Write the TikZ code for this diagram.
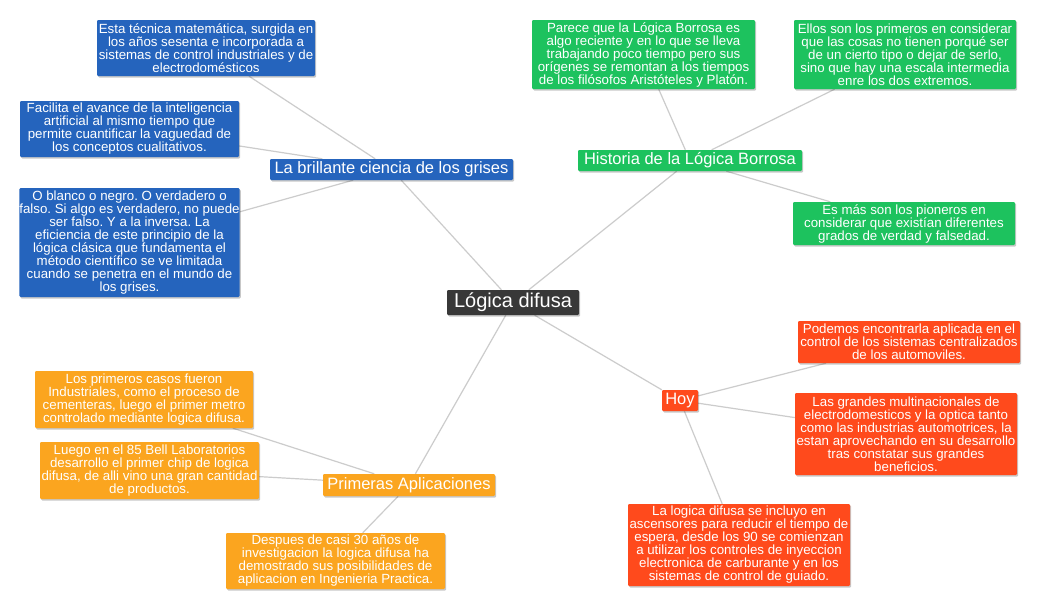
\documentclass[tikz,border=0pt]{standalone}
\usepackage{fontspec}
\setmainfont{Liberation Sans}
\usetikzlibrary{shadows,backgrounds}
\frenchspacing
\definecolor{cblue}{HTML}{2564BD}
\definecolor{cgreen}{HTML}{1DC25E}
\definecolor{corange}{HTML}{FBA51F}
\definecolor{cred}{HTML}{FF4A1C}
\definecolor{cdark}{HTML}{383838}
\definecolor{cline}{HTML}{CCCCCC}
\tikzset{
  box/.style={inner sep=0pt, align=center, text=white, rounded corners=1.2pt,
    drop shadow={shadow xshift=1.2pt, shadow yshift=-1.5pt, opacity=0.22, fill=black},
    font=\fontsize{13.3}{13}\selectfont},
  topic/.style={box, font=\fontsize{16.5}{17}\selectfont},
  central/.style={box, fill=cdark, font=\fontsize{20}{20}\selectfont},
  conn/.style={draw=cline, line width=1.2pt},
}
\begin{document}
\begin{tikzpicture}[x=1pt,y=-1pt]
\useasboundingbox (0,0) rectangle (1039,608);
% central
\node[central, minimum width=132pt, minimum height=25pt] (C) at (513,302.5) {Lógica difusa};
% blue
\node[topic, fill=cblue, minimum width=243pt, minimum height=21pt] (BM) at (391.5,169.5) {La brillante ciencia de los grises};
\node[box, fill=cblue, minimum width=218pt, minimum height=56pt] (B1) at (206,48) {Esta técnica matemática, surgida en\\los años sesenta e incorporada a\\sistemas de control industriales y de\\electrodomésticos};
\node[box, fill=cblue, minimum width=219pt, minimum height=56pt] (B2) at (129.5,129) {Facilita el avance de la inteligencia\\artificial al mismo tiempo que\\permite cuantificar la vaguedad de\\los conceptos cualitativos.};
\node[box, fill=cblue, minimum width=219pt, minimum height=109pt] (B3) at (129.5,242.5) {O blanco o negro. O verdadero o\\falso. Si algo es verdadero, no puede\\ser falso. Y a la inversa. La\\eficiencia de este principio de la\\lógica clásica que fundamenta el\\método científico se ve limitada\\cuando se penetra en el mundo de\\los grises.};
% green
\node[topic, fill=cgreen, minimum width=224pt, minimum height=21pt] (GM) at (690,160.5) {Historia de la Lógica Borrosa};
\node[box, fill=cgreen, minimum width=223pt, minimum height=69pt] (G1) at (643.5,54.5) {Parece que la Lógica Borrosa es\\algo reciente y en lo que se lleva\\trabajando poco tiempo pero sus\\orígenes se remontan a los tiempos\\de los filósofos Aristóteles y Platón.};
\node[box, fill=cgreen, minimum width=222pt, minimum height=69pt] (G2) at (905,54.5) {Ellos son los primeros en considerar\\que las cosas no tienen porqué ser\\de un cierto tipo o dejar de serlo,\\sino que hay una escala intermedia\\enre los dos extremos.};
\node[box, fill=cgreen, minimum width=222pt, minimum height=43pt] (G3) at (904,223.5) {Es más son los pioneros en\\considerar que existían diferentes\\grados de verdad y falsedad.};
% orange
\node[topic, fill=corange, minimum width=172pt, minimum height=22pt] (OM) at (409,485) {Primeras Aplicaciones};
\node[box, fill=corange, minimum width=218pt, minimum height=57pt] (O1) at (144,399.5) {Los primeros casos fueron\\Industriales, como el proceso de\\cementeras, luego el primer metro\\controlado mediante logica difusa.};
\node[box, fill=corange, minimum width=219pt, minimum height=57pt] (O2) at (149.5,470.5) {Luego en el 85 Bell Laboratorios\\desarrollo el primer chip de logica\\difusa, de alli vino una gran cantidad\\de productos.};
\node[box, fill=corange, minimum width=219pt, minimum height=56pt] (O3) at (335.5,561) {Despues de casi 30 años de\\investigacion la logica difusa ha\\demostrado sus posibilidades de\\aplicacion en Ingenieria Practica.};
% red
\node[topic, fill=cred, minimum width=36pt, minimum height=21pt] (RM) at (680,400.5) {Hoy};
\node[box, fill=cred, minimum width=222pt, minimum height=42pt] (R1) at (909,342) {Podemos encontrarla aplicada en el\\control de los sistemas centralizados\\de los automoviles.};
\node[box, fill=cred, minimum width=222pt, minimum height=82pt] (R2) at (906,434) {Las grandes multinacionales de\\electrodomesticos y la optica tanto\\como las industrias automotrices, la\\estan aprovechando en su desarrollo\\tras constatar sus grandes\\beneficios.};
\node[box, fill=cred, minimum width=222pt, minimum height=82pt] (R3) at (739,545) {La logica difusa se incluyo en\\ascensores para reducir el tiempo de\\espera, desde los 90 se comienzan\\a utilizar los controles de inyeccion\\electronica de carburante y en los\\sistemas de control de guiado.};
% connectors
\begin{scope}[on background layer]
\fill[white] (0,0) rectangle (1039,608);
\draw[conn] (C) -- (BM);
\draw[conn] (C) -- (GM);
\draw[conn] (C) -- (OM);
\draw[conn] (C) -- (RM);
\draw[conn] (BM) -- (B1);
\draw[conn] (BM) -- (B2);
\draw[conn] (BM) -- (B3);
\draw[conn] (GM) -- (G1);
\draw[conn] (GM) -- (G2);
\draw[conn] (GM) -- (G3);
\draw[conn] (OM) -- (O1);
\draw[conn] (OM) -- (O2);
\draw[conn] (OM) -- (O3);
\draw[conn] (RM) -- (R1);
\draw[conn] (RM) -- (R2);
\draw[conn] (RM) -- (R3);
\end{scope}
\end{tikzpicture}
\end{document}
